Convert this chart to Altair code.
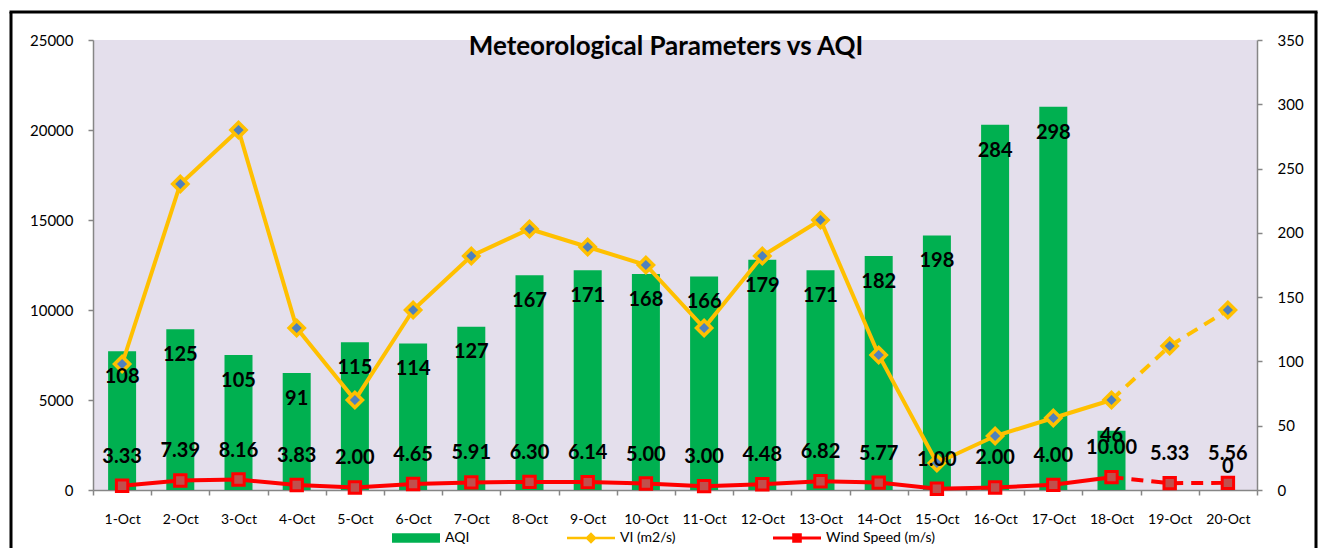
import altair as alt
import pandas as pd

days = ["1-Oct", "2-Oct", "3-Oct", "4-Oct", "5-Oct", "6-Oct", "7-Oct", "8-Oct", "9-Oct", "10-Oct",
        "11-Oct", "12-Oct", "13-Oct", "14-Oct", "15-Oct", "16-Oct", "17-Oct", "18-Oct", "19-Oct", "20-Oct"]
aqi = [108, 125, 105, 91, 115, 114, 127, 167, 171, 168, 166, 179, 171, 182, 198, 284, 298, 46, None, 0]
vi = [7000, 17000, 20000, 9000, 5000, 10000, 13000, 14500, 13500, 12500,
      9000, 13000, 15000, 7500, 1500, 3000, 4000, 5000, 8000, 10000]
wind = [3.33, 7.39, 8.16, 3.83, 2.00, 4.65, 5.91, 6.30, 6.14, 5.00,
        3.00, 4.48, 6.82, 5.77, 1.00, 2.00, 4.00, 10.00, 5.33, 5.56]
last_solid = 17  # index of 18-Oct; after that lines are dashed (forecast)

series = ["AQI", "VI (m2/s)", "Wind Speed (m/s)"]
series_colors = ["#00B050", "#FFC000", "#FF0000"]
legend_paths = [
    "M-1,-0.2H1V0.2H-1Z",
    "M-1,-0.05H1V0.05H-1Z M0,-0.24L0.24,0L0,0.24L-0.24,0Z",
    "M-1,-0.06H1V0.06H-1Z M-0.2,-0.2H0.2V0.2H-0.2Z",
]

df = pd.DataFrame({"day": days, "idx": list(range(len(days))), "AQI": aqi, "VI": vi, "Wind": wind})
df["wind_label"] = [f"{w:.2f}" for w in wind]

FONT = "Lato"
AX = "#868686"

x_enc = alt.X(
    "day:N", sort=days, title=None,
    scale=alt.Scale(paddingInner=0, paddingOuter=0),
    axis=alt.Axis(labelAngle=0, tickBand="extent", domainColor=AX, domainWidth=1.5,
                  tickColor=AX, tickWidth=1.5, tickSize=5, labelPadding=17, labelFontSize=14,
                  labelFont=FONT, labelColor="black", grid=False),
)

right_scale = alt.Scale(domain=[0, 350], nice=False, zero=True)
left_scale = alt.Scale(domain=[0, 25000], nice=False, zero=True)

right_axis = alt.Axis(orient="right", values=list(range(0, 351, 50)), grid=False, domainColor=AX,
                      domainWidth=1.5, tickColor=AX, tickWidth=1.5, tickSize=5, labelPadding=15,
                      labelFontSize=15, labelFont=FONT, labelColor="black", title=None)
left_axis = alt.Axis(orient="left", values=list(range(0, 25001, 5000)), format="d", grid=False,
                     domainColor=AX, domainWidth=1.5, tickColor=AX, tickWidth=1.5, tickSize=5,
                     labelPadding=15, labelFontSize=15, labelFont=FONT, labelColor="black", title=None)

base = alt.Chart(df)

# --- bars (right axis) ---
bars = base.mark_bar(size=28, color="#00B050").encode(
    x=x_enc,
    y=alt.Y("AQI:Q", scale=right_scale, axis=right_axis),
)

# --- VI (left axis) ---
vi_solid = base.mark_line(color="#FFC000", strokeWidth=4).encode(
    x=x_enc, y=alt.Y("VI:Q", scale=left_scale, axis=left_axis)
).transform_filter(alt.datum.idx <= last_solid)
vi_dash = base.mark_line(color="#FFC000", strokeWidth=4, strokeDash=[12, 8]).encode(
    x=x_enc, y=alt.Y("VI:Q", scale=left_scale, axis=left_axis)
).transform_filter(alt.datum.idx >= last_solid)
vi_pts = base.mark_point(shape="diamond", size=230, filled=True, fill="#4F81BD",
                         stroke="#FFC000", strokeWidth=3.5, opacity=1).encode(
    x=x_enc, y=alt.Y("VI:Q", scale=left_scale, axis=left_axis)
)
legend_def = alt.Legend(orient="none", legendX=299, legendY=474, direction="horizontal",
                        title=None, labelFontSize=14, labelFont=FONT, labelColor="black",
                        columnPadding=97, labelOffset=5, symbolStrokeWidth=0,
                        symbolSize=2304, symbolOpacity=1)
legend_layer = base.mark_point(size=2304, filled=True, opacity=1).encode(
    x=x_enc,
    y=alt.Y("VI:Q", scale=left_scale, axis=left_axis),
    color=alt.Color("series:N", scale=alt.Scale(domain=series, range=series_colors), legend=legend_def),
    shape=alt.Shape("series:N", scale=alt.Scale(domain=series, range=legend_paths), legend=legend_def),
).transform_calculate(series="'AQI'").transform_filter("false")

vi_group = alt.layer(vi_solid, vi_dash, vi_pts, legend_layer)

# --- wind + labels (right axis) ---
wind_solid = base.mark_line(color="#FF0000", strokeWidth=4).encode(
    x=x_enc, y=alt.Y("Wind:Q", scale=right_scale, axis=None)
).transform_filter(alt.datum.idx <= last_solid)
wind_dash = base.mark_line(color="#FF0000", strokeWidth=4, strokeDash=[12, 8]).encode(
    x=x_enc, y=alt.Y("Wind:Q", scale=right_scale, axis=None)
).transform_filter(alt.datum.idx >= last_solid)
wind_pts = base.mark_point(shape="square", size=130, filled=True, fill="#C0504D",
                           stroke="#FF0000", strokeWidth=3, opacity=1).encode(
    x=x_enc, y=alt.Y("Wind:Q", scale=right_scale, axis=None)
)
wind_text = base.mark_text(font=FONT, fontSize=20, fontWeight="bold", color="black",
                           baseline="middle", dy=-29).encode(
    x=x_enc, y=alt.Y("Wind:Q", scale=right_scale, axis=None), text="wind_label:N"
)
aqi_text = base.mark_text(font=FONT, fontSize=20, fontWeight="bold", color="black",
                          baseline="middle").encode(
    x=x_enc, y=alt.Y("label_pos:Q", scale=right_scale, axis=None), text=alt.Text("AQI:Q", format="d")
).transform_filter("isValid(datum.AQI)").transform_calculate(
    label_pos="datum.AQI >= 60 ? datum.AQI - 20 : max(datum.AQI - 4, 18)"
)
top_group = alt.layer(wind_solid, wind_dash, wind_pts, aqi_text, wind_text)

# --- outer frame of the chart (decorative border) ---
frame_data = alt.Data(values=[{"k": 1}])
frame_left = alt.Chart(frame_data).mark_rule(color="black", strokeWidth=3).encode(
    x=alt.value(-82), y=alt.value(-28), y2=alt.value(520))
frame_top = alt.Chart(frame_data).mark_rule(color="black", strokeWidth=3).encode(
    x=alt.value(-83.5), x2=alt.value(1224.5), y=alt.value(-28))
frame_right = alt.Chart(frame_data).mark_rule(color="black", strokeWidth=3).encode(
    x=alt.value(1223), y=alt.value(-28), y2=alt.value(520))

chart = alt.layer(bars, vi_group, top_group, frame_left, frame_top, frame_right).resolve_scale(
    y="independent"
).properties(
    width=1164, height=450,
    title=alt.Title("Meteorological Parameters vs AQI", font=FONT, fontSize=26, fontWeight="bold",
                    color="black", anchor="middle", frame="group", baseline="middle",
                    offset=0, dy=62, dx=-9),
    autosize=alt.AutoSizeParams(type="none"),
    padding={"left": 85, "top": 32, "right": 61, "bottom": 58},
    background="white",
).configure_view(fill="#E4DFEC", strokeWidth=0)

chart.save("out.html", embed_options={"renderer": "svg", "actions": False})
